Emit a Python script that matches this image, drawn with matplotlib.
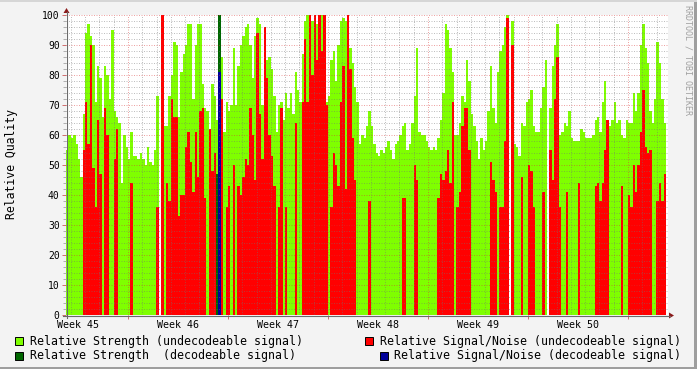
import numpy as np
import matplotlib
matplotlib.use('Agg')
import matplotlib.pyplot as plt
from matplotlib.patches import Rectangle, Polygon
from matplotlib.lines import Line2D
from matplotlib.transforms import blended_transform_factory

W, H = 697, 369
STEP = 4  # hours per sample
PX_PER_HOUR = 100 / 168.0

# relative strength, undecodeable signal (one value per 4h)
strength_undec = [
    55, 60, 59, 60, 57, 52, 46, 67, 94, 97,
    93, 90, 71, 83, 79, 66, 83, 80, 72, 95,
    68, 66, 64, 44, 60, 56, 52, 61, 53, 53,
    52, 54, 52, 50, 56, 51, 50, 55, 73, 0,
    72, 63, 63, 73, 80, 91, 90, 66, 81, 87,
    90, 97, 97, 72, 90, 97, 97, 77, 69, 68,
    58, 77, 73, 65, 0, 86, 61, 71, 68, 70,
    89, 70, 83, 90, 93, 96, 97, 90, 79, 93,
    99, 97, 70, 93, 85, 86, 82, 73, 61, 70,
    71, 65, 74, 69, 74, 67, 81, 75, 71, 87,
    98, 100, 100, 98, 97, 97, 99, 100, 100, 71,
    73, 85, 88, 78, 90, 98, 99, 98, 100, 89,
    84, 76, 71, 57, 60, 59, 63, 68, 63, 57,
    54, 53, 55, 54, 56, 58, 55, 52, 57, 58,
    60, 63, 64, 55, 57, 64, 73, 89, 61, 60,
    60, 58, 56, 55, 56, 55, 59, 65, 74, 97,
    95, 89, 81, 60, 60, 64, 73, 71, 85, 78,
    67, 63, 58, 52, 59, 55, 58, 68, 83, 69,
    64, 81, 88, 90, 96, 100, 0, 98, 57, 56,
    53, 64, 63, 71, 72, 75, 63, 61, 61, 69,
    76, 85, 0, 69, 83, 90, 97, 60, 61, 64,
    63, 68, 59, 58, 58, 58, 62, 61, 59, 59,
    59, 60, 65, 66, 61, 71, 78, 64, 63, 65,
    71, 64, 65, 60, 59, 65, 64, 64, 74, 68,
    74, 90, 97, 89, 84, 68, 64, 72, 91, 84, 72, 64,
]

# relative signal/noise, undecodeable signal
snr_undec = [
    0, 0, 0, 0, 0, 0, 0, 55, 71, 57,
    90, 49, 36, 65, 47, 0, 69, 60, 0, 0,
    52, 62, 0, 0, 0, 0, 0, 44, 0, 0,
    0, 0, 0, 0, 0, 0, 0, 0, 36, 0,
    100, 0, 44, 38, 72, 66, 66, 33, 40, 40,
    56, 61, 51, 41, 61, 46, 68, 69, 39, 0,
    62, 48, 54, 0, 0, 72, 0, 36, 43, 0,
    50, 0, 43, 40, 46, 52, 50, 69, 60, 45,
    94, 67, 52, 96, 79, 60, 53, 43, 0, 36,
    69, 0, 36, 0, 0, 0, 64, 0, 0, 71,
    92, 71, 100, 80, 100, 85, 100, 88, 100, 70,
    0, 36, 54, 50, 43, 71, 83, 42, 100, 82,
    59, 45, 0, 0, 0, 0, 0, 38, 0, 0,
    0, 0, 0, 0, 0, 0, 0, 0, 0, 0,
    0, 39, 39, 0, 0, 0, 50, 45, 0, 0,
    0, 0, 0, 0, 0, 0, 39, 47, 45, 48,
    55, 44, 71, 0, 36, 41, 63, 69, 69, 55,
    0, 0, 0, 0, 0, 0, 0, 0, 51, 45,
    41, 0, 36, 36, 58, 99, 0, 90, 0, 0,
    0, 46, 0, 0, 50, 48, 36, 0, 0, 0,
    41, 0, 0, 55, 45, 72, 86, 36, 0, 0,
    41, 0, 0, 0, 0, 44, 0, 0, 0, 0,
    0, 0, 43, 44, 38, 44, 55, 65, 0, 0,
    0, 0, 0, 43, 0, 0, 40, 36, 50, 41,
    50, 61, 75, 56, 54, 55, 0, 0, 38, 44, 38, 47,
]

# decodeable signal: only a few samples
dec_index = [63, 64]
strength_dec = [47, 100]
snr_dec = [0, 81]

week_labels = ['Week 45', 'Week 46', 'Week 47', 'Week 48', 'Week 49', 'Week 50']
legend_items = [
    ('Relative Strength (undecodeable signal)', '#7FFF00'),
    ('Relative Strength  (decodeable signal)', '#006600'),
    ('Relative Signal/Noise (undecodeable signal)', '#FF0000'),
    ('Relative Signal/Noise (decodeable signal)', '#000099'),
]

MONO = 'DejaVu Sans Mono'


def fx(x):
    return x / W


def fy(y):
    return 1 - y / H


fig = plt.figure(figsize=(W / 100, H / 100), dpi=100, facecolor='#F3F3F3')
ax = fig.add_axes([fx(66), fy(315), 602 / W, 300 / H], facecolor='white')
xmax = 602 / PX_PER_HOUR
ax.set_xlim(0, xmax)
ax.set_ylim(0, 100)

t = np.arange(len(strength_undec)) * STEP
td = np.array(dec_index) * STEP
kw = dict(width=STEP, align='edge', linewidth=0, antialiased=False)
ax.bar(t, strength_undec, color='#7FFF00', zorder=1, **kw)
ax.bar(td, strength_dec, color='#006600', zorder=2, **kw)
ax.bar(t, snr_undec, color='#FF0000', zorder=3, **kw)
ax.bar(td, snr_dec, color='#000099', zorder=4, **kw)

# grid, drawn over the data like rrdtool does
dots = (0, (1, 1.5))
day0 = 8.2
minor_x = [day0 + 24 * k for k in range(43) if k % 7 != 4 and day0 + 24 * k < xmax]
major_x = [day0 + 24 * k for k in range(43) if k % 7 == 4 and day0 + 24 * k < xmax]
ax.vlines(minor_x, 0, 100, colors=[(0.45, 0.45, 0.45, 0.45)], linestyles=dots, linewidth=0.72, zorder=5)
ax.vlines(major_x, 0, 100, colors=[(0.85, 0.2, 0.2, 0.45)], linestyles=dots, linewidth=0.72, zorder=5)
ax.hlines([v for v in range(2, 100, 2) if v % 10], 0, xmax, colors=[(0.45, 0.45, 0.45, 0.45)],
          linestyles=dots, linewidth=0.72, zorder=5)
ax.hlines(range(10, 101, 10), 0, xmax, colors=[(0.85, 0.2, 0.2, 0.45)],
          linestyles=dots, linewidth=0.72, zorder=5)

for s in ax.spines.values():
    s.set_visible(False)

ax.set_yticks(range(0, 101, 10))
ax.set_yticklabels([str(v) for v in range(0, 101, 10)], fontsize=7, family=MONO)
ax.set_yticks(range(0, 101, 2), minor=True)
ax.tick_params(axis='y', which='major', length=3, width=0.72, color='#D07070', pad=1.5)
ax.tick_params(axis='y', which='minor', length=2, width=0.72, color='#B0B0B0')
ax.set_xticks(major_x)
ax.set_xticklabels([])
ax.tick_params(axis='x', which='major', length=3, width=0.72, color='#D07070')

trans = blended_transform_factory(ax.transData, ax.transAxes)
for i, lab in enumerate(week_labels):
    ax.text(20.2 + 168 * i, -10 / 300, lab, transform=trans, ha='center', va='center',
            fontsize=7.2, family=MONO)

# axes with arrows
fig.add_artist(Line2D([fx(66.5), fx(66.5)], [fy(318), fy(12)], color='#6A6A6A', lw=0.8))
fig.add_artist(Line2D([fx(63), fx(670)], [fy(315.5), fy(315.5)], color='#6A6A6A', lw=0.8))
fig.add_artist(Polygon([(fx(63.5), fy(13)), (fx(69.5), fy(13)), (fx(66.5), fy(8))],
                       closed=True, color='#8B1A1A', lw=0))
fig.add_artist(Polygon([(fx(669), fy(312.5)), (fx(669), fy(318.5)), (fx(674), fy(315.5))],
                       closed=True, color='#8B1A1A', lw=0))

fig.text(fx(12), fy(164), 'Relative Quality', rotation=90, ha='center', va='center',
         fontsize=8.3, family=MONO)
fig.text(fx(688), fy(60), 'RRDTOOL / TOBI OETIKER', rotation=270, ha='center', va='center',
         fontsize=6, family=MONO, color='#A0A0A0')

# legend
legend_pos = [(15, 341, 30), (15, 356, 30), (365, 341, 380), (380, 356, 394)]
for (lab, col), (bx, by, tx) in zip(legend_items, legend_pos):
    fig.add_artist(Rectangle((fx(bx), fy(by + 4)), 8 / W, 8 / H, facecolor=col,
                             edgecolor='black', lw=0.7))
    fig.text(fx(tx), fy(by), lab, ha='left', va='center', fontsize=8.35, family=MONO)

# frame
fig.add_artist(Rectangle((fx(694), 0), 3 / W, 1, color='#9E9E9E', lw=0))
fig.add_artist(Rectangle((0, 0), 1, 2.5 / H, color='#9E9E9E', lw=0))
fig.add_artist(Rectangle((0, fy(2)), 1, 2 / H, color='#D6D6D6', lw=0))

fig.savefig('out.png', dpi=100, facecolor=fig.get_facecolor())
